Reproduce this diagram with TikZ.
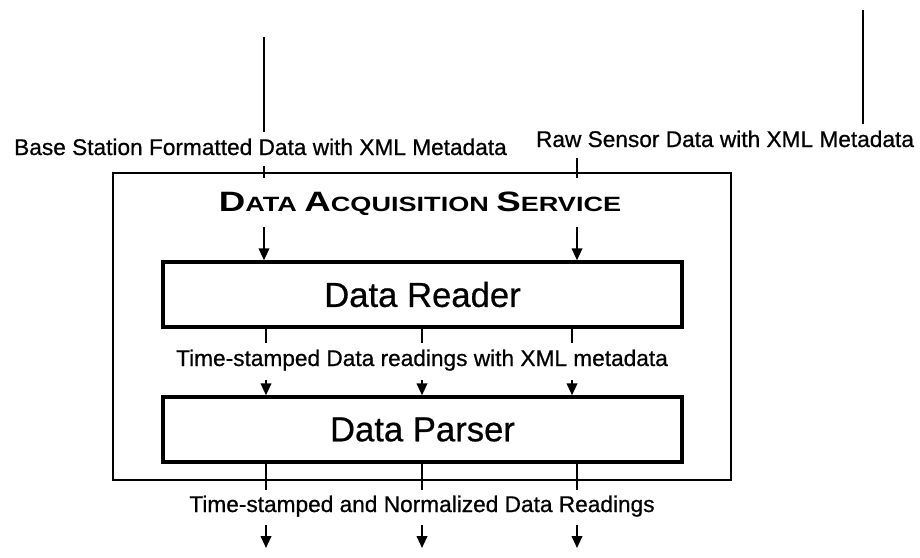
\documentclass[tikz,border=0pt]{standalone}
\usepackage{fontspec}
\setmainfont{Liberation Sans}[FakeBold=0.6]
\newfontfamily\labelfont{Liberation Sans}[FakeBold=0.7]
\newfontfamily\titlefont{Liberation Sans}[FakeStretch=1.31]
\usetikzlibrary{arrows.meta}

% fake small caps for the service title
\newcommand\tcap[1]{{\fontsize{21}{24}\selectfont #1}}
\newcommand\tsmall[1]{{\fontsize{15.5}{18}\selectfont #1}}

\tikzset{
  lbl/.style={font=\labelfont\fontsize{17}{20}\selectfont, inner sep=1pt, anchor=base},
  outerbox/.style={draw, line width=1.7pt, inner sep=0pt,
    minimum width=463.5pt, minimum height=230.25pt},
  stage/.style={draw, line width=2.6pt, inner sep=0pt,
    minimum width=389.25pt, minimum height=48.75pt,
    font=\fontsize{26}{30}\selectfont},
  flow/.style={line width=1.4pt, -{Triangle[width=8pt,length=9pt]}},
  wire/.style={line width=1.4pt},
  feed/.style={line width=1.8pt},
}

\begin{document}
\begin{tikzpicture}[x=0.75pt,y=-0.75pt]
\useasboundingbox (0,0) rectangle (920,557);

% service frame and its two stages
\node[outerbox] (das) at (422,326.5) {};
\node[stage] (reader) at (422.5,294.5) {Data Reader};
\node[stage] (parser) at (422.5,429.5) {Data Parser};

\node[anchor=base, inner sep=1pt, font=\titlefont\bfseries] (title) at (420,211)
  {\tcap{D}\tsmall{ATA }\tcap{A}\tsmall{CQUISITION }\tcap{S}\tsmall{ERVICE}};

% flow labels
\node[lbl] (baseLbl) at (260.5,155) {Base Station Formatted Data with XML Metadata};
\node[lbl] (rawLbl) at (725,147) {Raw Sensor Data with XML Metadata};
\node[lbl] (midLbl) at (422,366) {Time-stamped Data readings with XML metadata};
\node[lbl] (outLbl) at (422,512) {Time-stamped and Normalized Data Readings};

% incoming feeds
\coordinate (srcA) at (264,37);
\coordinate (srcB) at (863,10);
\draw[feed, shorten >=4pt] (srcA) -- (baseLbl.north -| srcA);
\draw[feed, shorten >=4pt] (srcB) -- (rawLbl.north -| srcB);

\coordinate (stubA) at (264,178);
\coordinate (stubB) at (577,178);
\draw[wire, shorten <=7pt] (baseLbl.south -| stubA) -- (stubA);
\draw[wire, shorten <=7pt] (rawLbl.south -| stubB) -- (stubB);

\coordinate (inA) at (264,227);
\coordinate (inB) at (577,227);
\draw[flow] (inA) -- (reader.north -| inA);
\draw[flow] (inB) -- (reader.north -| inB);

% reader to parser
\coordinate (r1) at (266,343);
\coordinate (r2) at (422,343);
\coordinate (r3) at (572,343);
\draw[wire] (reader.south -| r1) -- (r1);
\draw[wire] (reader.south -| r2) -- (r2);
\draw[wire] (reader.south -| r3) -- (r3);

\coordinate (p1) at (266,380);
\coordinate (p2) at (422,380);
\coordinate (p3) at (572,380);
\draw[flow] (p1) -- (parser.north -| p1);
\draw[flow] (p2) -- (parser.north -| p2);
\draw[flow] (p3) -- (parser.north -| p3);

% parser output
\coordinate (q1) at (266,490);
\coordinate (q2) at (422,490);
\coordinate (q3) at (577,490);
\draw[wire] (parser.south -| q1) -- (q1);
\draw[wire] (parser.south -| q2) -- (q2);
\draw[wire] (parser.south -| q3) -- (q3);

\coordinate (o1) at (266,525);
\coordinate (o2) at (422,525);
\coordinate (o3) at (577,525);
\coordinate (e1) at (266,548);
\coordinate (e2) at (422,548);
\coordinate (e3) at (577,548);
\draw[flow] (o1) -- (e1);
\draw[flow] (o2) -- (e2);
\draw[flow] (o3) -- (e3);
\end{tikzpicture}
\end{document}
